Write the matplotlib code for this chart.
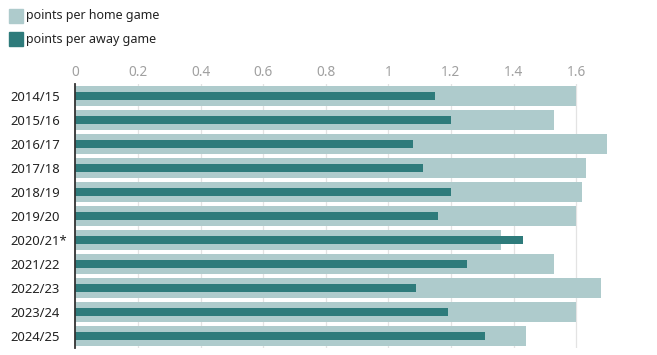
import numpy as np
from matplotlib import pyplot as plt
from matplotlib.patches import Rectangle

# Points per game
seasons = ["2014/15", "2015/16", "2016/17", "2017/18", "2018/19", "2019/20",
           "2020/21*", "2021/22", "2022/23", "2023/24", "2024/25"]
home = [1.60, 1.53, 1.70, 1.63, 1.62, 1.60, 1.36, 1.53, 1.68, 1.60, 1.44]
away = [1.15, 1.20, 1.08, 1.11, 1.20, 1.16, 1.43, 1.25, 1.09, 1.19, 1.31]
ticks = [0, 0.2, 0.4, 0.6, 0.8, 1, 1.2, 1.4, 1.6]
tick_labels = ["0", "0.2", "0.4", "0.6", "0.8", "1", "1.2", "1.4", "1.6"]

home_col = "#aecbcc"
away_col = "#2e7b7b"

plt.rcParams["font.family"] = ["Noto Sans", "DejaVu Sans"]

fig = plt.figure(figsize=[6.57, 3.55], dpi=100)
ax = fig.add_axes([0.1146, 0.0197, 0.8576, 0.7437])

y = np.arange(len(seasons))
ax.barh(y, home, height=0.83, color=home_col, zorder=2)
ax.barh(y, away, height=0.33, color=away_col, zorder=3)

ax.set_xlim(0, 1.8)
ax.set_ylim(len(seasons) - 0.5, -0.5)
ax.set_xticks(ticks)
ax.set_xticklabels(tick_labels)
ax.xaxis.tick_top()
ax.tick_params(axis="x", length=0, pad=3, labelsize=9.8, labelcolor="#a0a0a0")
ax.set_yticks(y)
ax.set_yticklabels(seasons, ha="left")
# left-aligned season labels starting near x=10px
ax.tick_params(axis="y", length=0, pad=(75.3 - 10) * 72 / 100,
               labelsize=9.4, labelcolor="#222222")
ax.grid(axis="x", color="#e3e3e3", linewidth=0.9, zorder=0)
ax.set_axisbelow(True)
for s in ["top", "right", "bottom"]:
    ax.spines[s].set_visible(False)
ax.spines["left"].set_color("#333333")
ax.spines["left"].set_linewidth(1.3)
ax.spines["left"].set_zorder(5)

# legend
for i, (lab, col) in enumerate([("points per home game", home_col),
                                ("points per away game", away_col)]):
    ytop = 1 - (9 + 23 * i) / 355
    fig.patches.append(Rectangle((9 / 657, ytop - 14 / 355), 14 / 657, 14 / 355,
                                 color=col, transform=fig.transFigure))
    fig.text(26 / 657, ytop - 7 / 355, lab, va="center", ha="left",
             fontsize=9, color="#222222")

plt.savefig("out.png", dpi=100)
